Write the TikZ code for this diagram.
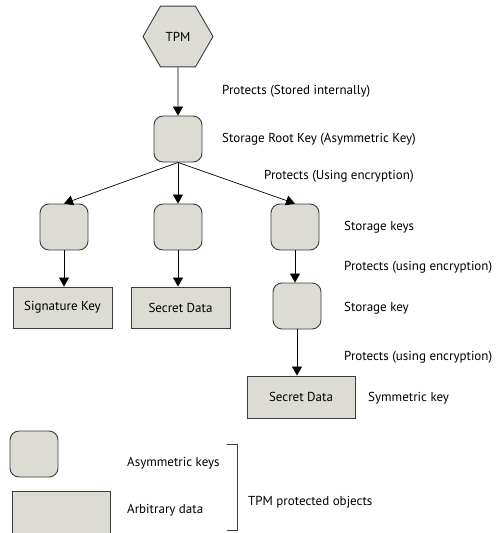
\documentclass[tikz,border=0pt]{standalone}
\usepackage{fontspec}
\setmainfont{PT Sans}
\usetikzlibrary{shapes.geometric,arrows.meta}
\definecolor{objfill}{HTML}{DCDCD4}
\definecolor{objline}{HTML}{3C3C3C}
\tikzset{
  txt/.style={font=\fontsize{13}{15}\selectfont},
  keybox/.style={draw=objline, fill=objfill, line width=0.9pt, rounded corners=9pt,
    minimum width=48pt, minimum height=46pt, inner sep=0pt},
  databox/.style={draw=objline, fill=objfill, line width=0.9pt,
    minimum height=41pt, inner sep=0pt, txt},
  chip/.style={draw=objline, fill=objfill, line width=0.9pt, regular polygon,
    regular polygon sides=6, minimum size=70pt, inner sep=0pt, txt},
  note/.style={anchor=west, inner sep=0pt, txt},
  link/.style={line width=0.7pt, -{Triangle[width=10pt,length=9pt]}},
}
\begin{document}
\begin{tikzpicture}[x=1pt,y=-1pt]
\useasboundingbox (0,0) rectangle (496,533);

% key hierarchy
\node[chip] (tpm) at (178,36.5) {TPM};
\node[keybox] (srk) at (178,139) {};
\node[keybox] (sig) at (64,227) {};
\node[keybox] (sec) at (178,227) {};
\node[keybox] (stor) at (295,227) {};
\node[keybox] (stor2) at (297,306) {};
\node[databox, minimum width=99pt] (sigkey) at (62.5,307.5) {Signature Key};
\node[databox, minimum width=99pt] (secdata) at (180.5,307.5) {Secret Data};
\node[databox, minimum width=108pt, minimum height=42pt] (symdata) at (301,397) {Secret Data};

\draw[link] (tpm.south) -- (srk.north);
\draw[link] (srk.south) -- (sig.north);
\draw[link] (srk.south) -- (sec.north);
\draw[link] (srk.south) -- (stor.north);
\draw[link] (sig.south) -- (sig.south |- sigkey.north);
\draw[link] (sec.south) -- (sec.south |- secdata.north);
\draw[link] (stor.south) -- (stor.south |- stor2.north);
\draw[link] (stor2.south) -- (stor2.south |- symdata.north);

% annotations
\node[note] (t1) at (222,91) {Protects (Stored internally)};
\node[note] (t2) at (222,139) {Storage Root Key (Asymmetric Key)};
\node[note] (t3) at (264,176) {Protects (Using encryption)};
\node[note] (t4) at (344,227) {Storage keys};
\node[note] (t5) at (344,267) {Protects (using encryption)};
\node[note] (t6) at (344,308) {Storage key};
\node[note] (t7) at (344,357) {Protects (using encryption)};
\node[note] (t8) at (368,398) {Symmetric key};

% legend (data sample runs off the lower edge)
\node[keybox] (lkey) at (34,454) {};
\path[fill=objfill] (12,491) rectangle (110,533);
\draw[draw=objline, line width=0.9pt] (12,533) -- (12,491) -- (110,491) -- (110,533);
\coordinate (ldata) at (61,512);
\node[note] (l1) at (127,463) {Asymmetric keys};
\node[note] (l2) at (127,510) {Arbitrary data};
\coordinate (bt) at (237,444);
\coordinate (bb) at (237,530);
\draw[draw=objline, line width=0.8pt] ([xshift=-10pt]bt) -- (bt) -- (bb) -- ([xshift=-10pt]bb);
\node[note] (l3) at (248,502) {TPM protected objects};
\end{tikzpicture}
\end{document}
